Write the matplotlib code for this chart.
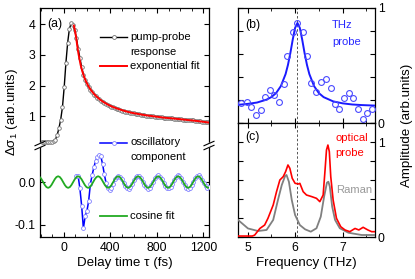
import numpy as np
import matplotlib
matplotlib.use('Agg')
import matplotlib.pyplot as plt
from matplotlib.lines import Line2D
from matplotlib.patches import Polygon
from matplotlib.ticker import MultipleLocator

plt.rcParams['font.family'] = ['Liberation Sans', 'DejaVu Sans']
plt.rcParams['mathtext.default'] = 'regular'
plt.rcParams['axes.unicode_minus'] = False

# ---------------- data: panel (a) ----------------
t_pp = np.arange(-192, 1249, 15)
pump_probe = [
    0.16, 0.16, 0.16, 0.16, 0.16, 0.17, 0.17, 0.19, 0.25, 0.40,
    0.62, 0.90, 1.30, 1.95, 2.75, 3.40, 3.85, 4.02, 3.98, 3.80,
    3.55, 3.20, 2.90, 2.60, 2.36, 2.18, 2.05, 1.95, 1.86, 1.78,
    1.71, 1.65, 1.60, 1.55, 1.51, 1.47, 1.43, 1.40, 1.37, 1.34,
    1.31, 1.29, 1.27, 1.25, 1.23, 1.21, 1.19, 1.18, 1.16, 1.15,
    1.13, 1.12, 1.11, 1.10, 1.09, 1.08, 1.07, 1.06, 1.05, 1.04,
    1.03, 1.02, 1.02, 1.01, 1.00, 0.99, 0.99, 0.98, 0.97, 0.97,
    0.96, 0.96, 0.95, 0.95, 0.94, 0.94, 0.93, 0.93, 0.92, 0.92,
    0.91, 0.90, 0.90, 0.89, 0.88, 0.88, 0.87, 0.87, 0.86, 0.85,
    0.85, 0.84, 0.83, 0.83, 0.82, 0.82, 0.81]

t_fit = [86, 95, 105, 115, 125, 135, 145, 160, 175, 190, 210, 230, 255, 280,
         310, 340, 380, 420, 470, 520, 580, 640, 700, 780, 860, 950, 1050,
         1150, 1250]
exp_fit = [3.95, 3.80, 3.58, 3.30, 3.05, 2.85, 2.66, 2.45, 2.28, 2.14, 1.99,
           1.87, 1.75, 1.65, 1.55, 1.47, 1.38, 1.31, 1.24, 1.18, 1.12, 1.08,
           1.04, 1.00, 0.96, 0.93, 0.89, 0.85, 0.80]

t_osc = np.arange(108, 1249, 15)
oscillatory = [
    0.015, 0.014, -0.015, -0.055, -0.108, -0.080, -0.068, -0.045, -0.005, 0.016,
    0.034, 0.049, 0.058, 0.064, 0.060, 0.042, 0.018, -0.002, -0.014, -0.019,
    -0.014, -0.004, 0.006, 0.012, 0.014, 0.012, 0.006, -0.003, -0.010, -0.015,
    -0.016, -0.012, -0.005, 0.004, 0.011, 0.015, 0.014, 0.009, 0.001, -0.006,
    -0.012, -0.016, -0.013, -0.008, 0.001, 0.009, 0.014, 0.016, 0.012, 0.006,
    -0.003, -0.010, -0.015, -0.015, -0.011, -0.004, 0.005, 0.012, 0.017, 0.015,
    0.009, 0.001, -0.007, -0.013, -0.016, -0.013, -0.007, 0.001, 0.009, 0.014,
    0.016, 0.012, 0.005, -0.003, -0.010, -0.013, -0.012]

t_cos = np.arange(104) * (172 / 12) - 221
cosine_fit = [
    0.0135, 0.0117, 0.0068, 0.0, -0.0068, -0.0117, -0.0135, -0.0117, -0.0068, 0.0, 0.0068, 0.0117,
    0.0135, 0.0117, 0.0068, 0.0, -0.0068, -0.0117, -0.0135, -0.0117, -0.0068, 0.0, 0.0068, 0.0117,
    0.0135, 0.0117, 0.0068, 0.0, -0.0068, -0.0117, -0.0135, -0.0117, -0.0068, 0.0, 0.0068, 0.0117,
    0.0135, 0.0117, 0.0068, 0.0, -0.0068, -0.0117, -0.0135, -0.0117, -0.0068, 0.0, 0.0068, 0.0117,
    0.0135, 0.0117, 0.0068, 0.0, -0.0068, -0.0117, -0.0135, -0.0117, -0.0068, 0.0, 0.0068, 0.0117,
    0.0135, 0.0117, 0.0068, 0.0, -0.0068, -0.0117, -0.0135, -0.0117, -0.0068, 0.0, 0.0068, 0.0117,
    0.0135, 0.0117, 0.0068, 0.0, -0.0068, -0.0117, -0.0135, -0.0117, -0.0068, 0.0, 0.0068, 0.0117,
    0.0135, 0.0117, 0.0068, 0.0, -0.0068, -0.0117, -0.0135, -0.0117, -0.0068, 0.0, 0.0068, 0.0117,
    0.0135, 0.0117, 0.0068, 0.0, -0.0068, -0.0117, -0.0135, -0.0117]

# ---------------- data: panel (b) ----------------
f_thz = [4.86, 4.98, 5.08, 5.17, 5.28, 5.36, 5.47, 5.56, 5.67, 5.76, 5.84,
         5.96, 6.05, 6.16, 6.24, 6.33, 6.44, 6.54, 6.64, 6.75, 6.84, 6.93,
         7.03, 7.13, 7.22, 7.32, 7.42, 7.52, 7.62]
thz_probe = [0.177, 0.180, 0.142, 0.070, 0.113, 0.229, 0.287, 0.243, 0.180,
             0.336, 0.585, 0.794, 0.867, 0.788, 0.585, 0.350, 0.267, 0.354,
             0.383, 0.307, 0.165, 0.119, 0.215, 0.258, 0.215, 0.119, 0.035,
             0.090, 0.119]
f_lor = [4.80, 5.00, 5.20, 5.40, 5.50, 5.60, 5.70, 5.80, 5.85, 5.90, 5.95,
         6.00, 6.05, 6.10, 6.15, 6.20, 6.25, 6.30, 6.40, 6.50, 6.60, 6.80,
         7.00, 7.20, 7.40, 7.70]
lor_fit = [0.158, 0.166, 0.178, 0.203, 0.225, 0.260, 0.320, 0.425, 0.505,
           0.607, 0.724, 0.827, 0.870, 0.827, 0.724, 0.607, 0.505, 0.425,
           0.320, 0.260, 0.225, 0.188, 0.171, 0.161, 0.156, 0.151]

# ---------------- data: panel (c) ----------------
f_opt = [4.80, 5.00, 5.10, 5.15, 5.26, 5.36, 5.43, 5.54, 5.61, 5.68, 5.75,
         5.80, 5.85, 5.89, 5.94, 6.00, 6.07, 6.10, 6.17, 6.24, 6.35, 6.45,
         6.52, 6.59, 6.63, 6.66, 6.69, 6.72, 6.75, 6.80, 6.87, 6.96, 7.05,
         7.15, 7.26, 7.34, 7.43, 7.53, 7.61, 7.68]
optical = [0.01, 0.01, 0.01, 0.02, 0.09, 0.126, 0.197, 0.337, 0.477, 0.60,
           0.635, 0.687, 0.758, 0.723, 0.618, 0.565, 0.558, 0.565, 0.477,
           0.442, 0.425, 0.407, 0.372, 0.442, 0.705, 0.916, 0.968, 0.898,
           0.635, 0.390, 0.197, 0.108, 0.074, 0.056, 0.090, 0.074, 0.102,
           0.074, 0.056, 0.056]
f_raman = [4.80, 5.01, 5.22, 5.40, 5.54, 5.64, 5.72, 5.79, 5.82, 5.87, 5.93,
           6.00, 6.10, 6.21, 6.33, 6.45, 6.54, 6.61, 6.67, 6.70, 6.73, 6.78,
           6.84, 6.94, 7.12, 7.40, 7.68]
raman = [0.18, 0.09, 0.063, 0.074, 0.18, 0.39, 0.547, 0.642, 0.653, 0.582,
         0.39, 0.232, 0.126, 0.081, 0.056, 0.092, 0.214, 0.424, 0.572, 0.582,
         0.53, 0.319, 0.18, 0.092, 0.045, 0.021, 0.021]
peak_line = 6.05

# ---------------- layout ----------------
W, H = 415, 279
fig = plt.figure(figsize=(W / 100, H / 100), dpi=100)


def fx(x):
    return x / W


def fy(y):
    return 1 - y / H


def rect(l, t, r, b):
    return [fx(l), fy(b), (r - l) / W, (b - t) / H]


FS_TICK = 8.8
FS_LAB = 9.6
FS_TXT = 8.1

ax_up = fig.add_axes(rect(40, 8, 209, 146))
ax_lo = fig.add_axes(rect(40, 146, 209, 237))
ax_b = fig.add_axes(rect(238, 8, 375, 123))
ax_c = fig.add_axes(rect(238, 123, 375, 237))

# panel (a) upper
ax_up.plot(t_pp, pump_probe, color='black', lw=1.0, marker='o', ms=2.6,
           mfc='white', mec='#707070', mew=0.6, zorder=2)
ax_up.plot(t_fit, exp_fit, color='red', lw=1.4, zorder=3)
ax_up.set_xlim(-205, 1248)
ax_up.set_ylim(0.04, 4.52)
ax_up.spines['bottom'].set_visible(False)
ax_up.set_yticks([1, 2, 3, 4])
ax_up.xaxis.set_major_locator(MultipleLocator(400))
ax_up.xaxis.set_minor_locator(MultipleLocator(100))
ax_up.tick_params(axis='x', which='both', bottom=False, top=True,
                  labelbottom=False, direction='in')
ax_up.tick_params(axis='y', which='both', left=True, right=True,
                  direction='in', labelsize=FS_TICK)
ax_up.tick_params(which='major', length=3.5)
ax_up.tick_params(which='minor', length=2)

# panel (a) lower
ax_lo.plot(t_osc, oscillatory, color='#0000ff', lw=1.1, marker='o', ms=2.8,
           mfc='white', mec='#8080ff', mew=0.6, zorder=3)
ax_lo.plot(t_cos, cosine_fit, color='#22aa22', lw=1.3, zorder=4)
ax_lo.set_xlim(-205, 1248)
ax_lo.set_ylim(-0.128, 0.084)
ax_lo.spines['top'].set_visible(False)
ax_lo.set_yticks([-0.1, 0.0])
ax_lo.set_yticklabels(['-0.1', '0.0'])
ax_lo.xaxis.set_major_locator(MultipleLocator(400))
ax_lo.xaxis.set_minor_locator(MultipleLocator(100))
ax_lo.tick_params(axis='x', which='both', top=False, bottom=True,
                  direction='in', labelsize=FS_TICK)
ax_lo.tick_params(axis='y', which='both', left=True, right=True,
                  direction='in', labelsize=FS_TICK)
ax_lo.tick_params(which='major', length=3.5)
ax_lo.tick_params(which='minor', length=2)
ax_lo.set_xlabel('Delay time τ (fs)', fontsize=FS_LAB, labelpad=2)

# break marks
for xs in (40, 209):
    poly = Polygon([(fx(xs - 1.5), fy(149)), (fx(xs + 1.5), fy(147)),
                    (fx(xs + 1.5), fy(142)), (fx(xs - 1.5), fy(144))],
                   closed=True, transform=fig.transFigure, facecolor='white',
                   edgecolor='none', zorder=10)
    fig.add_artist(poly)
    for yc in (143.5, 147.5):
        fig.add_artist(Line2D([fx(xs - 5), fx(xs + 5)], [fy(yc + 2.2), fy(yc - 2.2)],
                              transform=fig.transFigure, color='black', lw=0.8,
                              zorder=11))


# legend for (a)
def leg_line(y, color, marker=None, mec=None, lw=1.2):
    fig.add_artist(Line2D([fx(100), fx(127)], [fy(y), fy(y)], transform=fig.transFigure,
                          color=color, lw=lw))
    if marker:
        fig.add_artist(Line2D([fx(113.5)], [fy(y)], transform=fig.transFigure,
                              marker=marker, ms=2.8, mfc='white', mec=mec, mew=0.6,
                              color=color))


leg_line(37, 'black', 'o', '#707070', 1.0)
fig.text(fx(130), fy(37), 'pump-probe', fontsize=FS_TXT, va='center', ha='left')
fig.text(fx(130), fy(52), 'response', fontsize=FS_TXT, va='center', ha='left')
leg_line(66, 'red', lw=1.4)
fig.text(fx(130), fy(66), 'exponential fit', fontsize=FS_TXT, va='center', ha='left')
leg_line(143, '#0000ff', 'o', '#8080ff', 1.1)
fig.text(fx(130), fy(142), 'oscillatory', fontsize=FS_TXT, va='center', ha='left')
fig.text(fx(130), fy(157), 'component', fontsize=FS_TXT, va='center', ha='left')
leg_line(216, '#22aa22', lw=1.3)
fig.text(fx(130), fy(216), 'cosine fit', fontsize=FS_TXT, va='center', ha='left')

fig.text(fx(47), fy(24), '(a)', fontsize=FS_TXT + 0.7, va='center', ha='left')
fig.text(fx(12), fy(112), 'Δσ$_1$ (arb.units)', fontsize=FS_LAB, rotation=90,
         va='center', ha='center')

# panel (b)
ax_b.plot(f_lor, lor_fit, color='#1a1aff', lw=1.4, zorder=3)
ax_b.plot(f_thz, thz_probe, linestyle='none', marker='o', ms=4.2, mfc='none',
          mec='#4a4aff', mew=0.8, zorder=4)
ax_b.axvline(peak_line, color='#555555', lw=0.7, ls=(0, (2.5, 2)), zorder=2)
ax_b.set_xlim(4.8, 7.68)
ax_b.set_ylim(0, 1)
ax_b.xaxis.set_major_locator(MultipleLocator(1))
ax_b.xaxis.set_minor_locator(MultipleLocator(0.5))
ax_b.set_yticks([0, 0.2, 0.4, 0.6, 0.8, 1.0])
ax_b.set_yticklabels(['0', '', '', '', '', '1'])
ax_b.tick_params(axis='x', which='both', top=True, bottom=True,
                 labelbottom=False, direction='in')
ax_b.tick_params(axis='y', left=True, right=True, labelleft=False,
                 labelright=True, direction='in', labelsize=FS_TICK, pad=2)
ax_b.tick_params(which='major', length=3.5)
ax_b.tick_params(which='minor', length=2)
fig.text(fx(245), fy(25), '(b)', fontsize=FS_TXT + 0.7, va='center', ha='left')
fig.text(fx(332), fy(25), 'THz', fontsize=FS_TXT, va='center', ha='left', color='#2a2aff')
fig.text(fx(332), fy(42), 'probe', fontsize=FS_TXT, va='center', ha='left', color='#2a2aff')

# panel (c)
ax_c.plot(f_raman, raman, color='#808080', lw=1.3, zorder=3)
ax_c.plot(f_opt, optical, color='red', lw=1.2, zorder=4)
ax_c.axvline(peak_line, color='#555555', lw=0.7, ls=(0, (2.5, 2)), zorder=2)
ax_c.set_xlim(4.8, 7.68)
ax_c.set_ylim(0, 1.2)
ax_c.xaxis.set_major_locator(MultipleLocator(1))
ax_c.xaxis.set_minor_locator(MultipleLocator(0.5))
ax_c.set_yticks([0, 0.2, 0.4, 0.6, 0.8, 1.0, 1.2])
ax_c.set_yticklabels(['0', '', '', '', '', '1', ''])
ax_c.tick_params(axis='x', which='both', top=True, bottom=True,
                 direction='in', labelsize=FS_TICK)
ax_c.tick_params(axis='y', left=True, right=True, labelleft=False,
                 labelright=True, direction='in', labelsize=FS_TICK, pad=2)
ax_c.tick_params(which='major', length=3.5)
ax_c.tick_params(which='minor', length=2)
ax_c.set_xlabel('Frequency (THz)', fontsize=FS_LAB, labelpad=2)
fig.text(fx(245), fy(137), '(c)', fontsize=FS_TXT + 0.7, va='center', ha='left')
fig.text(fx(335), fy(138), 'optical', fontsize=FS_TXT, va='center', ha='left', color='red')
fig.text(fx(335), fy(153), 'probe', fontsize=FS_TXT, va='center', ha='left', color='red')
fig.text(fx(336), fy(190), 'Raman', fontsize=FS_TXT, va='center', ha='left', color='#999999')

fig.text(fx(407), fy(125), 'Amplitude (arb.units)', fontsize=FS_LAB, rotation=90,
         va='center', ha='center')

for a in (ax_up, ax_lo, ax_b, ax_c):
    for s in a.spines.values():
        s.set_linewidth(0.9)

fig.savefig('out.png', dpi=100)
